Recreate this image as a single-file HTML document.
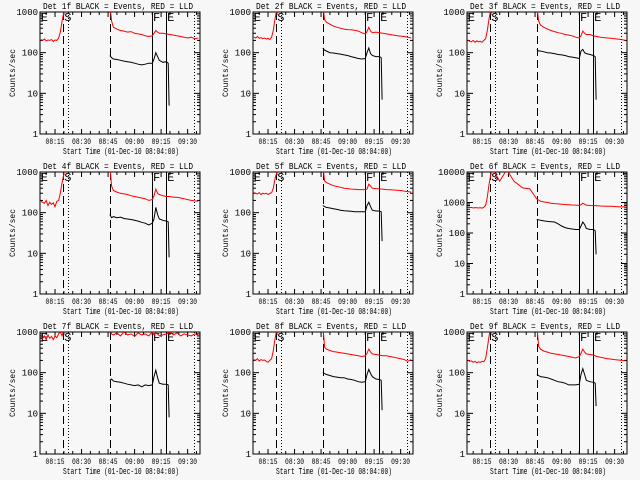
<!DOCTYPE html>
<html><head><meta charset="utf-8"><style>
html,body{margin:0;padding:0;background:#f7f7f7;}
svg{display:block;}
text{font-family:"Liberation Mono","DejaVu Sans Mono",monospace;fill:#000;}
</style></head><body>
<svg id="fig" width="640" height="480" viewBox="0 0 640 480" xmlns="http://www.w3.org/2000/svg">
<rect x="0" y="0" width="640" height="480" fill="#f7f7f7"/>
</svg>
<script>
// minutes after 08:00
const tRed = [7,8,9,10,11,12,13,14,15,16,17,18,19,20,21, 22,25,29,33,38,42, 46,47,48,50,52,54,56,58,60,62,64,66,68,70,71,72,73,74,76,78,80,82,84,86,88,90,92,94,96];
const tBlk = [46,47,48,50,52,54,56,58,60,62,64,66,68,70,71,72,73,74,76,78,79,79.5];
const N = null;
const detNames = ["1f","2f","3f","4f","5f","6f","7f","8f","9f"];
const yMaxDecades = [3,3,3,3,3,4,3,3,3];
const red1 = [210,200,215,195,205,200,210,190,205,200,230,320,600,1000,1500, N,N,N,N,N,N, 1500,600,420,380,350,340,320,330,300,290,280,260,250,260,300,350,320,300,300,290,280,270,260,250,240,230,240,220,230];
const red2 = [240,230,250,225,235,220,230,215,225,210,240,350,700,1200,1500, N,N,N,N,N,N, 1500,650,560,500,450,420,400,380,370,365,355,340,310,290,330,420,340,310,320,310,300,290,280,270,260,255,250,240,230];
const red3 = [200,190,185,200,180,195,185,190,180,200,220,350,700,1200,1500, N,N,N,N,N,N, 1500,600,480,420,380,350,330,310,300,280,270,260,240,230,260,340,300,280,280,260,250,240,235,230,225,220,215,210,200];
const red4 = [190,180,170,200,150,180,160,175,140,190,200,300,550,900,1500, N,N,N,N,N,N, 1500,450,350,320,300,290,280,260,250,240,230,220,200,210,260,380,300,280,260,250,250,240,240,230,220,210,200,195,190];
const red5 = [310,300,290,310,280,300,290,300,280,300,310,400,700,1000,1500, N,N,N,N,N,N, 1500,600,550,500,460,440,420,400,390,380,375,370,370,370,380,500,450,400,390,385,380,370,365,360,355,350,340,330,320];
const red6 = [700,680,690,660,680,670,660,680,650,700,800,1500,4000,9000,12000, 10000,5000,12000,5000,3000,2800, 1300,1200,1100,1050,1000,950,920,900,880,860,850,830,820,800,850,950,880,820,800,790,780,770,760,750,750,740,730,720,720];
const red7 = [750,700,800,650,850,700,780,650,800,720,900,1000,800,1100,1200, N,N,N,N,N,N, 1200,900,850,950,800,1000,850,900,780,950,850,900,800,1000,850,950,900,800,850,900,1000,850,950,800,900,850,800,900,850];
const red8 = [210,200,220,195,210,200,205,190,180,200,220,350,700,1200,1500, N,N,N,N,N,N, 1500,420,380,350,330,320,310,300,290,280,270,260,250,260,300,380,320,290,280,270,260,260,250,240,230,220,210,190,210];
const red9 = [200,190,195,180,190,175,185,180,190,185,220,400,800,1300,1500, N,N,N,N,N,N, 1500,450,380,340,320,300,290,280,270,260,250,240,230,250,300,380,320,290,280,270,250,240,230,220,215,210,205,200,195];
const blk1 = [85,75,70,68,65,62,60,58,55,52,50,52,55,55,70,100,80,65,58,60,55,5];
const blk2 = [130,115,110,100,98,95,92,88,85,80,76,72,70,72,100,130,95,85,80,80,75,7];
const blk3 = [120,110,110,105,100,98,95,90,88,85,80,78,75,72,110,120,100,95,90,85,80,7];
const blk4 = [90,75,80,75,78,72,70,68,65,62,58,55,50,55,70,135,90,70,65,62,60,8];
const blk5 = [150,140,135,130,125,120,115,112,110,108,105,105,105,105,150,180,140,115,110,110,105,20];
const blk6 = [280,270,260,250,240,235,230,200,170,150,140,135,130,130,170,230,190,140,130,130,120,20];
const blk7 = [65,70,62,60,58,55,52,50,48,50,45,50,48,50,80,115,75,55,52,52,50,8];
const blk8 = [100,95,90,85,80,78,75,75,70,68,65,60,58,60,90,120,95,80,70,68,65,12];
const blk9 = [90,85,80,78,75,70,65,60,58,55,50,50,50,52,90,125,90,65,60,58,55,15];
const redSeries = [red1,red2,red3,red4,red5,red6,red7,red8,red9];
const blkSeries = [blk1,blk2,blk3,blk4,blk5,blk6,blk7,blk8,blk9];
const tickMinutes = [15,30,45,60,75,90];
const tickLabels = ["08:15","08:30","08:45","09:00","09:15","09:30"];
const markerTimes = [19.5,22.6,46.1,69.9,77.8,93.7];
const markerStyles = ["dash","dot","dash","solid","solid","dot"];
const markerLetters = ["E","S","F","E"];
const letterTimes = [6.9,20.2,70.4,78.4];

const NS="http://www.w3.org/2000/svg";
const svg=document.getElementById('fig');
function mk(tag,attrs,parent){const e=document.createElementNS(NS,tag);for(const k in attrs)e.setAttribute(k,attrs[k]);(parent||svg).appendChild(e);return e;}
const colX=[0,213,427], rowY=[0,160,320];
const BL=40,BR=200,BT=12,BB=134, T0=6.5, T1=97;

for(let p=0;p<9;p++){
  const ox=colX[p%3], oy=rowY[Math.floor(p/3)];
  const g=mk('g',{transform:`translate(${ox},${oy})`});
  
  
  const dec=yMaxDecades[p];
  const xs=t=>BL+(t-T0)/(T1-T0)*(BR-BL);
  const ys=v=>BB-Math.log10(v)/dec*(BB-BT);
  const cid='clip'+p;
  const cp=mk('clipPath',{id:cid},g); mk('rect',{x:BL,y:BT,width:BR-BL,height:BB-BT},cp);
  const tt=mk('text',{x:118,y:9,'font-size':9,'text-anchor':'middle',textLength:150,lengthAdjust:'spacingAndGlyphs'},g);
  tt.textContent='Det '+detNames[p]+' BLACK = Events, RED = LLD';
  
  
  const box=mk('rect',{x:BL,y:BT,width:BR-BL,height:BB-BT,fill:'none',stroke:'#000','stroke-width':1},g);
  
  
  for(let d=0;d<=dec;d++){
    const y=ys(Math.pow(10,d));
    mk('line',{x1:BL,x2:BL+6,y1:y,y2:y,stroke:'#000'},g);
    mk('line',{x1:BR,x2:BR-6,y1:y,y2:y,stroke:'#000'},g);
    const lb=mk('text',{x:BL-2,y:y+3,'font-size':9,'text-anchor':'end'},g);
    lb.textContent=String(Math.pow(10,d));
    
    
    if(d<dec){for(let m=2;m<10;m++){const ym=ys(m*Math.pow(10,d));
      mk('line',{x1:BL,x2:BL+3,y1:ym,y2:ym,stroke:'#000'},g);
      mk('line',{x1:BR,x2:BR-3,y1:ym,y2:ym,stroke:'#000'},g);}}
  }
  const yt=mk('text',{x:0,y:0,'font-size':8,'text-anchor':'middle',transform:'translate(15,73) rotate(-90)'},g);
  yt.textContent='Counts/sec';
  
  
  for(let m=10;m<T1;m+=5){const x=xs(m);const major=(m%15===0);
    mk('line',{x1:x,x2:x,y1:BB,y2:BB-(major?5:3),stroke:'#000'},g);
    mk('line',{x1:x,x2:x,y1:BT,y2:BT+(major?5:3),stroke:'#000'},g);}
  tickMinutes.forEach((m,i)=>{const lb=mk('text',{x:xs(m),y:144,'font-size':8,'text-anchor':'middle',textLength:19,lengthAdjust:'spacingAndGlyphs'},g);
    lb.textContent=tickLabels[i];
    
    });
  const xt=mk('text',{x:121,y:154,'font-size':9,'text-anchor':'middle',textLength:116,lengthAdjust:'spacingAndGlyphs'},g);
  xt.textContent='Start Time (01-Dec-10 08:04:00)';
  
  
  markerTimes.forEach((t,i)=>{const s=markerStyles[i];const x=Math.round(xs(t))+0.5;
    const a={x1:x,x2:x,y1:BT,y2:BB,stroke:'#000','stroke-width':1};
    if(s==='dash')a['stroke-dasharray']='8,4'; if(s==='dot')a['stroke-dasharray']='1,2';
    const l=mk('line',a,g);
    
    });
  markerLetters.forEach((c,i)=>{const lt=mk('text',{x:xs(letterTimes[i]),y:BT+9,'font-size':12},g);
    lt.textContent=c;
    
    });
  const rv=redSeries[p]; let d='',pen=false;
  rv.forEach((v,i)=>{if(v===null){pen=false;return;}d+=(pen?'L':'M')+xs(tRed[i]).toFixed(1)+' '+ys(v).toFixed(1)+' ';pen=true;});
  const rl=mk('path',{d:d,fill:'none',stroke:'#ff0000','stroke-width':1,'clip-path':`url(#${cid})`},g);
  
  
  const bv=blkSeries[p]; let db='';
  bv.forEach((v,i)=>{db+=(i?'L':'M')+xs(tBlk[i]).toFixed(1)+' '+ys(v).toFixed(1)+' ';});
  const bl=mk('path',{d:db,fill:'none',stroke:'#000','stroke-width':1,'clip-path':`url(#${cid})`},g);
  
  
}
</script>
</body></html>
